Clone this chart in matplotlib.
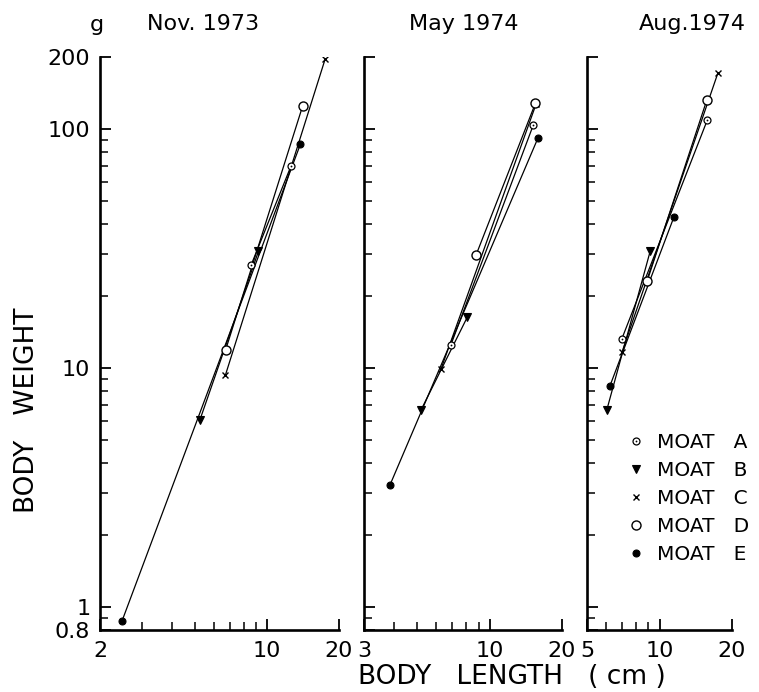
import matplotlib
matplotlib.use("Agg")
import matplotlib.pyplot as plt
from matplotlib.ticker import FixedLocator, FixedFormatter, NullFormatter
from matplotlib.legend_handler import HandlerTuple
from matplotlib.lines import Line2D

plt.rcParams["font.family"] = ["DejaVu Sans"]

moats = ["A", "B", "C", "D", "E"]

# Body length (cm) and body weight (g) of the smallest and largest fish per moat
nov_len_small = [8.57, 5.24, 6.70, 6.71, 2.47]
nov_wt_small = [26.9, 6.07, 9.35, 11.9, 0.87]
nov_len_large = [12.6, 9.20, 17.5, 14.1, 13.8]
nov_wt_large = [70.0, 30.7, 196.0, 125.0, 86.5]

may_len_small = [6.90, 5.18, 6.28, 8.77, 3.85]
may_wt_small = [12.5, 6.66, 9.93, 29.6, 3.24]
may_len_large = [15.2, 8.07, 15.6, 15.5, 15.9]
may_wt_large = [104.0, 16.3, 127.0, 128.0, 91.8]

aug_len_small = [6.97, 6.04, 7.00, 8.90, 6.23]
aug_wt_small = [13.2, 6.66, 11.7, 23.2, 8.42]
aug_len_large = [15.8, 9.15, 17.5, 15.7, 11.5]
aug_wt_large = [109.0, 30.8, 172.0, 131.6, 43.0]

titles = ["Nov. 1973", "May 1974", "Aug.1974"]
x_limits = [(2, 20), (3, 20), (5, 20)]
x_major = [[2, 10, 20], [3, 10, 20], [5, 10, 20]]
x_minor = [[3, 4, 5, 6, 7, 8, 9], [4, 5, 6, 7, 8, 9], [6, 7, 8, 9]]
y_major = [0.8, 1, 10, 100, 200]
y_major_labels = ["0.8", "1", "10", "100", "200"]
y_minor = [0.9, 2, 3, 4, 5, 6, 7, 8, 9, 20, 30, 40, 50, 60, 70, 80, 90]

styles = {
    "A": dict(marker="o", ms=5.0, mfc="white", mec="black", mew=0.9),
    "B": dict(marker="v", ms=6.0, mfc="black", mec="black", mew=0.8),
    "C": dict(marker="x", ms=5.0, mec="black", mew=1.0),
    "D": dict(marker="o", ms=6.5, mfc="white", mec="black", mew=1.0),
    "E": dict(marker="o", ms=5.0, mfc="black", mec="black", mew=0.8),
}
dot_style = dict(marker="o", ms=1.3, mfc="black", mec="black", mew=0)

W, H = 759, 692
fig = plt.figure(figsize=(W / 100, H / 100), dpi=100)

rects_px = [(100, 239), (364, 198), (587, 145)]
bottom_px, height_px = 62, 573

panels = [
    (nov_len_small, nov_wt_small, nov_len_large, nov_wt_large),
    (may_len_small, may_wt_small, may_len_large, may_wt_large),
    (aug_len_small, aug_wt_small, aug_len_large, aug_wt_large),
]

axes = []
for i, ((left, width), data) in enumerate(zip(rects_px, panels)):
    ax = fig.add_axes([left / W, bottom_px / H, width / W, height_px / H])
    axes.append(ax)
    ax.set_xscale("log")
    ax.set_yscale("log")
    ax.set_xlim(*x_limits[i])
    ax.set_ylim(0.8, 200)

    ls, ws, ll, wl = data
    for j, m in enumerate(moats):
        xs = [ls[j], ll[j]]
        ys = [ws[j], wl[j]]
        ax.plot(xs, ys, "-", color="black", lw=0.9, zorder=2)
        ax.plot(xs, ys, linestyle="none", zorder=3, **styles[m])
        if m == "A":
            ax.plot(xs, ys, linestyle="none", zorder=4, **dot_style)

    for side in ("top", "right"):
        ax.spines[side].set_visible(False)
    for side in ("left", "bottom"):
        ax.spines[side].set_linewidth(1.9)

    ax.xaxis.set_major_locator(FixedLocator(x_major[i]))
    ax.xaxis.set_major_formatter(FixedFormatter([str(v) for v in x_major[i]]))
    ax.xaxis.set_minor_locator(FixedLocator(x_minor[i]))
    ax.xaxis.set_minor_formatter(NullFormatter())

    ax.yaxis.set_major_locator(FixedLocator(y_major))
    ax.yaxis.set_major_formatter(FixedFormatter(y_major_labels))
    ax.yaxis.set_minor_locator(FixedLocator(y_minor))
    ax.yaxis.set_minor_formatter(NullFormatter())

    ax.tick_params(which="major", direction="in", length=8, width=1.3,
                   labelsize=16, pad=7, colors="black")
    ax.tick_params(which="minor", direction="in", length=6, width=1.1)
    ax.tick_params(axis="x", which="major", pad=8)
    if i > 0:
        ax.tick_params(axis="y", labelleft=False)

# Panel titles and unit
fig.text(203 / W, 1 - 30 / H, titles[0], ha="center", va="baseline", fontsize=16)
fig.text(464 / W, 1 - 30 / H, titles[1], ha="center", va="baseline", fontsize=16)
fig.text(692 / W, 1 - 30 / H, titles[2], ha="center", va="baseline", fontsize=16)
fig.text(97 / W, 1 - 31 / H, "g", ha="center", va="baseline", fontsize=16)

# Axis titles
fig.text(27 / W, 1 - 410 / H, "BODY   WEIGHT", rotation=90, ha="center",
         va="center", fontsize=19)
fig.text(512 / W, 1 - 677 / H, "BODY   LENGTH   ( cm )", ha="center",
         va="center", fontsize=19)

# Legend of moats
handles = []
for m in moats:
    h = Line2D([], [], linestyle="none", **styles[m])
    if m == "A":
        h = (h, Line2D([], [], linestyle="none", **dot_style))
    handles.append(h)
labels = ["MOAT   " + m for m in moats]
fig.legend(handles, labels, loc="center left",
           bbox_to_anchor=(626 / W, 1 - 498.5 / H), frameon=False,
           fontsize=14.5, borderpad=0, handlelength=1.0, handletextpad=0.55,
           labelspacing=0.45, numpoints=1, borderaxespad=0,
           handler_map={tuple: HandlerTuple(ndivide=1)})

fig.savefig("out.png", dpi=100)
